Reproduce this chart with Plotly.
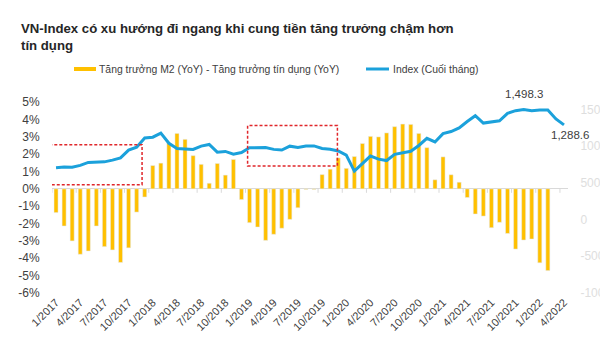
import plotly.graph_objects as go

# ---------------- data ----------------
months = [f"{m}/{y}" for y in range(2017, 2023) for m in range(1, 13)][:64]

spread_m2_credit = [  # Tăng trưởng M2 (YoY) - Tăng trưởng tín dụng (YoY), %
    -1.37, -2.14, -3.00, -3.77, -3.58, -2.14, -3.33, -3.52, -4.24, -3.40, -1.34, -0.47,
    1.34, 1.48, 2.64, 3.19, 2.85, 1.91, 1.41, 0.32, 1.46, 0.79, 1.69, -0.62,
    -1.95, -2.20, -2.97, -2.62, -2.27, -1.76, -1.09, -0.04, -0.04, 0.82, 1.13, 1.78,
    1.18, 1.86, 2.61, 3.02, 2.99, 3.22, 3.58, 3.73, 3.71, 3.19, 2.37, 0.52,
    1.84, 0.81, 0.38, -0.50, -1.45, -1.57, -2.24, -1.93, -2.57, -3.47, -2.95, -2.89,
    -4.26, -4.71, None, None,
]

vn_index = [  # Index (Cuối tháng)
    705, 714, 711, 737, 778, 786, 785, 809, 840, 945, 985, 1111,
    1121, 1177, 1038, 968, 958, 954, 999, 1022, 917, 927, 890, 913,
    977, 982, 980, 955, 946, 999, 982, 1000, 1002, 967, 957, 933,
    878, 660, 766, 864, 822, 803, 888, 908, 929, 1008, 1106, 1056,
    1170, 1198, 1248, 1335, 1414, 1313, 1332, 1345, 1446, 1482, 1498.3, 1481,
    1490, 1492, 1370, 1288.6,
]

left_ticks = list(range(-6, 6))
right_ticks = [-1000, -500, 0, 500, 1000, 1500]
highlight_ranges = [(-1.77, 10.67, 0.24, 2.54), (23.76, 34.9, 1.32, 3.64)]  # x0,x1,y0,y1 in axis units
peak_idx = 58
last_idx = 63

title_lines = ["VN-Index có xu hướng đi ngang khi cung tiền tăng trưởng chậm hơn", "tín dụng"]
legend_bar = "Tăng trưởng M2 (YoY) - Tăng trưởng tín dụng (YoY)"
legend_line = "Index (Cuối tháng)"

# ---------------- styling ----------------
W, H = 600, 352
PL, PT, PR, PB = 52, 102, 32, 59
PW, PH = W - PL - PR, H - PT - PB
BAR_C = "#FFC000"
LINE_C = "#1BA1DB"
TXT = "#404040"
FONT = "Liberation Sans, Arial, sans-serif"


def px(x):
    return (x - PL) / PW


def py(y):
    return (PT + PH - y) / PH


xs = list(range(len(months)))

fig = go.Figure()
fig.add_trace(go.Bar(x=xs, y=spread_m2_credit, marker_color=BAR_C, width=0.5,
                     name=legend_bar, showlegend=False))
fig.add_trace(go.Scatter(x=xs, y=vn_index, mode="lines", yaxis="y2",
                         line=dict(color=LINE_C, width=3), name=legend_line,
                         showlegend=False))

shapes = []
# tick marks on the zero (category) axis, between every 3 categories
for k in range(0, len(months) + 1, 3):
    shapes.append(dict(type="line", xref="x", yref="y", x0=k - 0.5, x1=k - 0.5,
                       ysizemode="pixel", yanchor=0, y0=0, y1=-4,
                       line=dict(color="#d9d9d9", width=1)))
# red dashed highlight boxes
for (x0, x1, y0, y1) in highlight_ranges:
    shapes.append(dict(type="rect", xref="x", yref="y", x0=x0, x1=x1, y0=y0, y1=y1,
                       line=dict(color="#E0262B", width=1.5, dash="3px,2px"),
                       fillcolor="rgba(0,0,0,0)"))
# custom legend swatches
shapes.append(dict(type="rect", xref="paper", yref="paper", x0=px(74), x1=px(96),
                   y0=py(71), y1=py(67), fillcolor=BAR_C, line=dict(width=0)))
shapes.append(dict(type="line", xref="paper", yref="paper", x0=px(366), x1=px(389),
                   y0=py(69), y1=py(69), line=dict(color=LINE_C, width=3)))

annotations = [
    dict(text="<br>".join(f"<b>{t}</b>" for t in title_lines),
         xref="paper", yref="paper", x=px(19), y=py(19), xanchor="left", yanchor="top",
         align="left", showarrow=False, font=dict(size=13.2, color="#262626", family=FONT)),
    dict(text=legend_bar, xref="paper", yref="paper", x=px(97), y=py(69.5),
         xanchor="left", yanchor="middle", showarrow=False,
         font=dict(size=10.4, color=TXT, family=FONT)),
    dict(text=legend_line, xref="paper", yref="paper", x=px(391), y=py(69.5),
         xanchor="left", yanchor="middle", showarrow=False,
         font=dict(size=10.4, color=TXT, family=FONT)),
    dict(text=f"{vn_index[peak_idx]:,.1f}", xref="x", yref="y2", x=peak_idx,
         y=vn_index[peak_idx], yshift=15, showarrow=False,
         font=dict(size=11.5, color=TXT, family=FONT)),
    dict(text=f"{vn_index[last_idx]:,.1f}", xref="x", yref="y2", x=last_idx,
         y=vn_index[last_idx], xshift=6, yshift=-10, showarrow=False,
         font=dict(size=11.5, color=TXT, family=FONT)),
]

fig.update_layout(
    width=W, height=H,
    margin=dict(l=PL, r=PR, t=PT, b=PB, pad=0, autoexpand=False),
    paper_bgcolor="white", plot_bgcolor="white",
    showlegend=False,
    font=dict(family=FONT, color=TXT),
    xaxis=dict(range=[-0.5, len(months) - 0.5], tickmode="array", automargin=False,
               tickvals=xs[::3], ticktext=months[::3], tickangle=-45,
               showgrid=False, zeroline=False, showline=False, ticks="",
               tickfont=dict(size=11, color=TXT, family=FONT)),
    yaxis=dict(range=[-6, 5], tickmode="array", tickvals=left_ticks, automargin=False,
               ticktext=[f"{v}%" for v in left_ticks], showgrid=False,
               zeroline=True, zerolinecolor="#d9d9d9", zerolinewidth=1,
               showline=False, ticks="outside", ticklen=9, tickcolor="rgba(0,0,0,0)",
               tickfont=dict(size=12, color=TXT, family=FONT)),
    yaxis2=dict(range=[-1000, 1600], overlaying="y", side="right", tickmode="array",
                automargin=False,
                tickvals=right_ticks, ticktext=[str(v) for v in right_ticks],
                showgrid=False, zeroline=False, showline=False, ticks="outside",
                ticklen=9, tickcolor="rgba(0,0,0,0)",
                tickfont=dict(size=12, color="#dedede", family=FONT)),
    shapes=shapes,
    annotations=annotations,
)

fig.write_html("out.html")
